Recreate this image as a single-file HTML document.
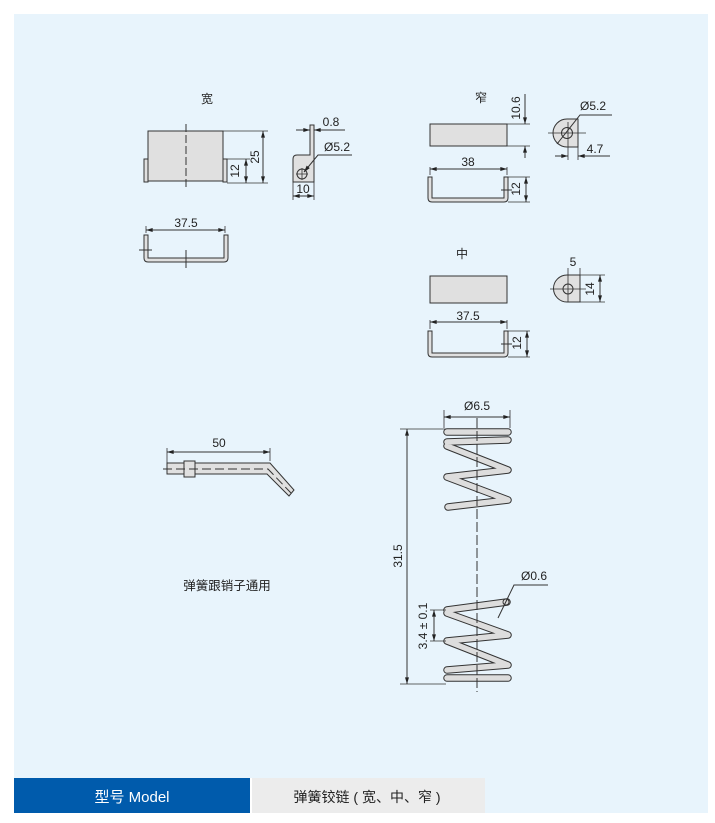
<!DOCTYPE html>
<html><head><meta charset="utf-8"><style>
body{margin:0;background:#fff;width:715px;height:818px;overflow:hidden;font-family:"Liberation Sans","Noto Sans CJK SC",sans-serif}
</style></head><body>
<svg width="715" height="818" xmlns="http://www.w3.org/2000/svg" font-family="Liberation Sans, Noto Sans CJK SC, sans-serif">
<defs>
<marker id="a" viewBox="0 0 10 6" refX="10" refY="3" markerWidth="7" markerHeight="4" orient="auto-start-reverse"><path d="M0,0L10,3L0,6z" fill="#222"/></marker>
</defs>
<rect x="14" y="14" width="694" height="764" fill="#e8f4fc"/>
<rect x="14" y="778" width="236" height="35" fill="#005bac"/>
<rect x="252" y="778" width="233" height="35" fill="#ececec"/>
<rect x="485" y="778" width="223" height="35" fill="#e8f4fc"/>
<text x="132" y="802" font-size="15" fill="#fff" text-anchor="middle">型号 Model</text>
<text x="367" y="802" font-size="14" fill="#222" text-anchor="middle">弹簧铰链 ( 宽、中、窄 )</text>

<g stroke="#333" stroke-width="1" fill="#e0e0e0" font-size="12">
<!-- wide -->
<text x="207" y="103" stroke="none" fill="#222" text-anchor="middle">宽</text>
<rect x="144" y="159" width="4" height="23"/><rect x="223" y="159" width="4" height="23"/>
<rect x="148" y="131" width="75" height="50"/>
<line x1="186" y1="124" x2="186" y2="188" stroke-dasharray="8,3" fill="none"/>
<path d="M227,159H250M227,183H268M223,131H268" fill="none" stroke-width="0.8"/>
<line x1="246" y1="159" x2="246" y2="183" marker-start="url(#a)" marker-end="url(#a)"/>
<line x1="263" y1="131" x2="263" y2="183" marker-start="url(#a)" marker-end="url(#a)"/>
<text transform="translate(239,171) rotate(-90)" stroke="none" fill="#222" text-anchor="middle">12</text>
<text transform="translate(259,157) rotate(-90)" stroke="none" fill="#222" text-anchor="middle">25</text>
<path d="M310,125V155H297Q293,155 293,159V182H314V125Z"/>
<circle cx="302" cy="174" r="5" fill="none"/>
<path d="M296,174H308M302,168V180" fill="none" stroke-width="0.8"/>
<path d="M310,125V134M314,125V134M293,182V200M314,182V200" fill="none" stroke-width="0.8"/>
<line x1="296" y1="130" x2="310" y2="130" marker-end="url(#a)"/>
<line x1="345" y1="130" x2="314" y2="130" marker-end="url(#a)"/>
<path d="M352,155H318L304,172" fill="none" marker-end="url(#a)"/>
<line x1="293" y1="196" x2="314" y2="196" marker-start="url(#a)" marker-end="url(#a)"/>
<text x="331" y="126" stroke="none" fill="#222" text-anchor="middle">0.8</text>
<text x="337" y="151" stroke="none" fill="#222" text-anchor="middle">Ø5.2</text>
<text x="303" y="193" stroke="none" fill="#222" text-anchor="middle">10</text>
<path d="M144,235V258Q144,262 148,262H224Q228,262 228,258V235H224V258H148V235Z"/>
<line x1="186" y1="250" x2="186" y2="268" fill="none"/><line x1="139" y1="250" x2="152" y2="250"/>
<path d="M146,233V226M225,233V226" fill="none" stroke-width="0.8"/>
<line x1="146" y1="230" x2="225" y2="230" marker-start="url(#a)" marker-end="url(#a)"/>
<text x="186" y="227" stroke="none" fill="#222" text-anchor="middle">37.5</text>

<!-- narrow -->
<text x="481" y="102" stroke="none" fill="#222" text-anchor="middle">窄</text>
<rect x="430" y="124" width="77" height="22"/>
<path d="M507,124H530M507,146H530" fill="none" stroke-width="0.8"/>
<line x1="525" y1="94" x2="525" y2="124" marker-end="url(#a)"/>
<line x1="525" y1="158" x2="525" y2="146" marker-end="url(#a)"/>
<text transform="translate(520,108) rotate(-90)" stroke="none" fill="#222" text-anchor="middle">10.6</text>
<path d="M428,177V198Q428,202 432,202H504Q508,202 508,198V177H504V198H432V177Z"/>
<path d="M430,175V167M507,175V167M508,177H530M508,202H530" fill="none" stroke-width="0.8"/>
<line x1="430" y1="169" x2="507" y2="169" marker-start="url(#a)" marker-end="url(#a)"/>
<line x1="526" y1="177" x2="526" y2="202" marker-start="url(#a)" marker-end="url(#a)"/>
<line x1="501" y1="190" x2="512" y2="190"/>
<text x="468" y="166" stroke="none" fill="#222" text-anchor="middle">38</text>
<text transform="translate(520,189) rotate(-90)" stroke="none" fill="#222" text-anchor="middle">12</text>
<path d="M578,119V147H567A14,14 0 0 1 567,119Z"/>
<circle cx="567" cy="133" r="5.5" fill="none"/>
<path d="M548,133H586M568,122V160M578,147V160" fill="none" stroke-width="0.8"/>
<path d="M612,115H580L557,144" fill="none"/>
<line x1="555" y1="156" x2="568" y2="156" marker-end="url(#a)"/>
<line x1="610" y1="156" x2="578" y2="156" marker-end="url(#a)"/>
<text x="593" y="110" stroke="none" fill="#222" text-anchor="middle">Ø5.2</text>
<text x="595" y="153" stroke="none" fill="#222" text-anchor="middle">4.7</text>

<!-- middle -->
<text x="462" y="258" stroke="none" fill="#222" text-anchor="middle">中</text>
<rect x="430" y="276" width="77" height="27"/>
<path d="M428,331V353Q428,357 432,357H504Q508,357 508,353V331H504V353H432V331Z"/>
<path d="M430,329V320M507,329V320M508,331H530M508,357H530" fill="none" stroke-width="0.8"/>
<line x1="430" y1="322" x2="507" y2="322" marker-start="url(#a)" marker-end="url(#a)"/>
<line x1="527" y1="331" x2="527" y2="357" marker-start="url(#a)" marker-end="url(#a)"/>
<line x1="501" y1="344" x2="512" y2="344"/>
<text x="468" y="320" stroke="none" fill="#222" text-anchor="middle">37.5</text>
<text transform="translate(521,343) rotate(-90)" stroke="none" fill="#222" text-anchor="middle">12</text>
<path d="M580,275V302H567A13.5,13.5 0 0 1 567,275Z"/>
<circle cx="568" cy="289" r="5" fill="none"/>
<path d="M550,289H586M568,268V302M580,268V275M580,275H605M580,302H605" fill="none" stroke-width="0.8"/>
<line x1="600" y1="275" x2="600" y2="302" marker-start="url(#a)" marker-end="url(#a)"/>
<text x="573" y="266" stroke="none" fill="#222" text-anchor="middle">5</text>
<text transform="translate(594,289) rotate(-90)" stroke="none" fill="#222" text-anchor="middle">14</text>

<!-- pin -->
<path d="M167,463H270L294,490L289,496L267,474H167Z"/>
<rect x="184" y="461" width="11" height="16"/>
<path d="M163,469H268L291,493" fill="none" stroke-dasharray="9,4"/>
<path d="M167,470V448M270,461V448" fill="none" stroke-width="0.8"/>
<line x1="167" y1="452" x2="270" y2="452" marker-start="url(#a)" marker-end="url(#a)"/>
<text x="219" y="447" stroke="none" fill="#222" text-anchor="middle">50</text>
<text x="227" y="590" stroke="none" fill="#222" text-anchor="middle" font-size="12.5">弹簧跟销子通用</text>
</g>

<!-- spring -->
<g fill="none" stroke-linecap="round" stroke-linejoin="round">
<g stroke="#333" stroke-width="7.5">
<path d="M447,432H508M447,442L508,440M447,446L508,470L447,477L508,500L448,507"/>
<path d="M447,610L507,602M447,613L508,635L447,641L508,665L447,670M447,678H508"/>
</g>
<g stroke="#ddd" stroke-width="5.5">
<path d="M447,432H508M447,442L508,440M447,446L508,470L447,477L508,500L448,507"/>
<path d="M447,610L507,602M447,613L508,635L447,641L508,665L447,670M447,678H508"/>
</g>
</g>
<g stroke="#333" stroke-width="1" fill="none" font-size="12">
<line x1="477" y1="418" x2="477" y2="692" stroke-dasharray="10,3"/>
<path d="M444,428V410M510,428V410M400,429H446M400,684H446M430,610H446M430,641H446" stroke-width="0.8"/>
<line x1="444" y1="417" x2="510" y2="417" marker-start="url(#a)" marker-end="url(#a)"/>
<line x1="407" y1="429" x2="407" y2="684" marker-start="url(#a)" marker-end="url(#a)"/>
<line x1="434" y1="610" x2="434" y2="641" marker-start="url(#a)" marker-end="url(#a)"/>
<path d="M548,585H514L498,618"/>
<circle cx="506" cy="602" r="3"/>
<text x="477" y="410" stroke="none" fill="#222" text-anchor="middle">Ø6.5</text>
<text transform="translate(402,556) rotate(-90)" stroke="none" fill="#222" text-anchor="middle">31.5</text>
<text transform="translate(427,626) rotate(-90)" stroke="none" fill="#222" text-anchor="middle">3.4 ± 0.1</text>
<text x="534" y="580" stroke="none" fill="#222" text-anchor="middle">Ø0.6</text>
</g>
</svg>
</body></html>
